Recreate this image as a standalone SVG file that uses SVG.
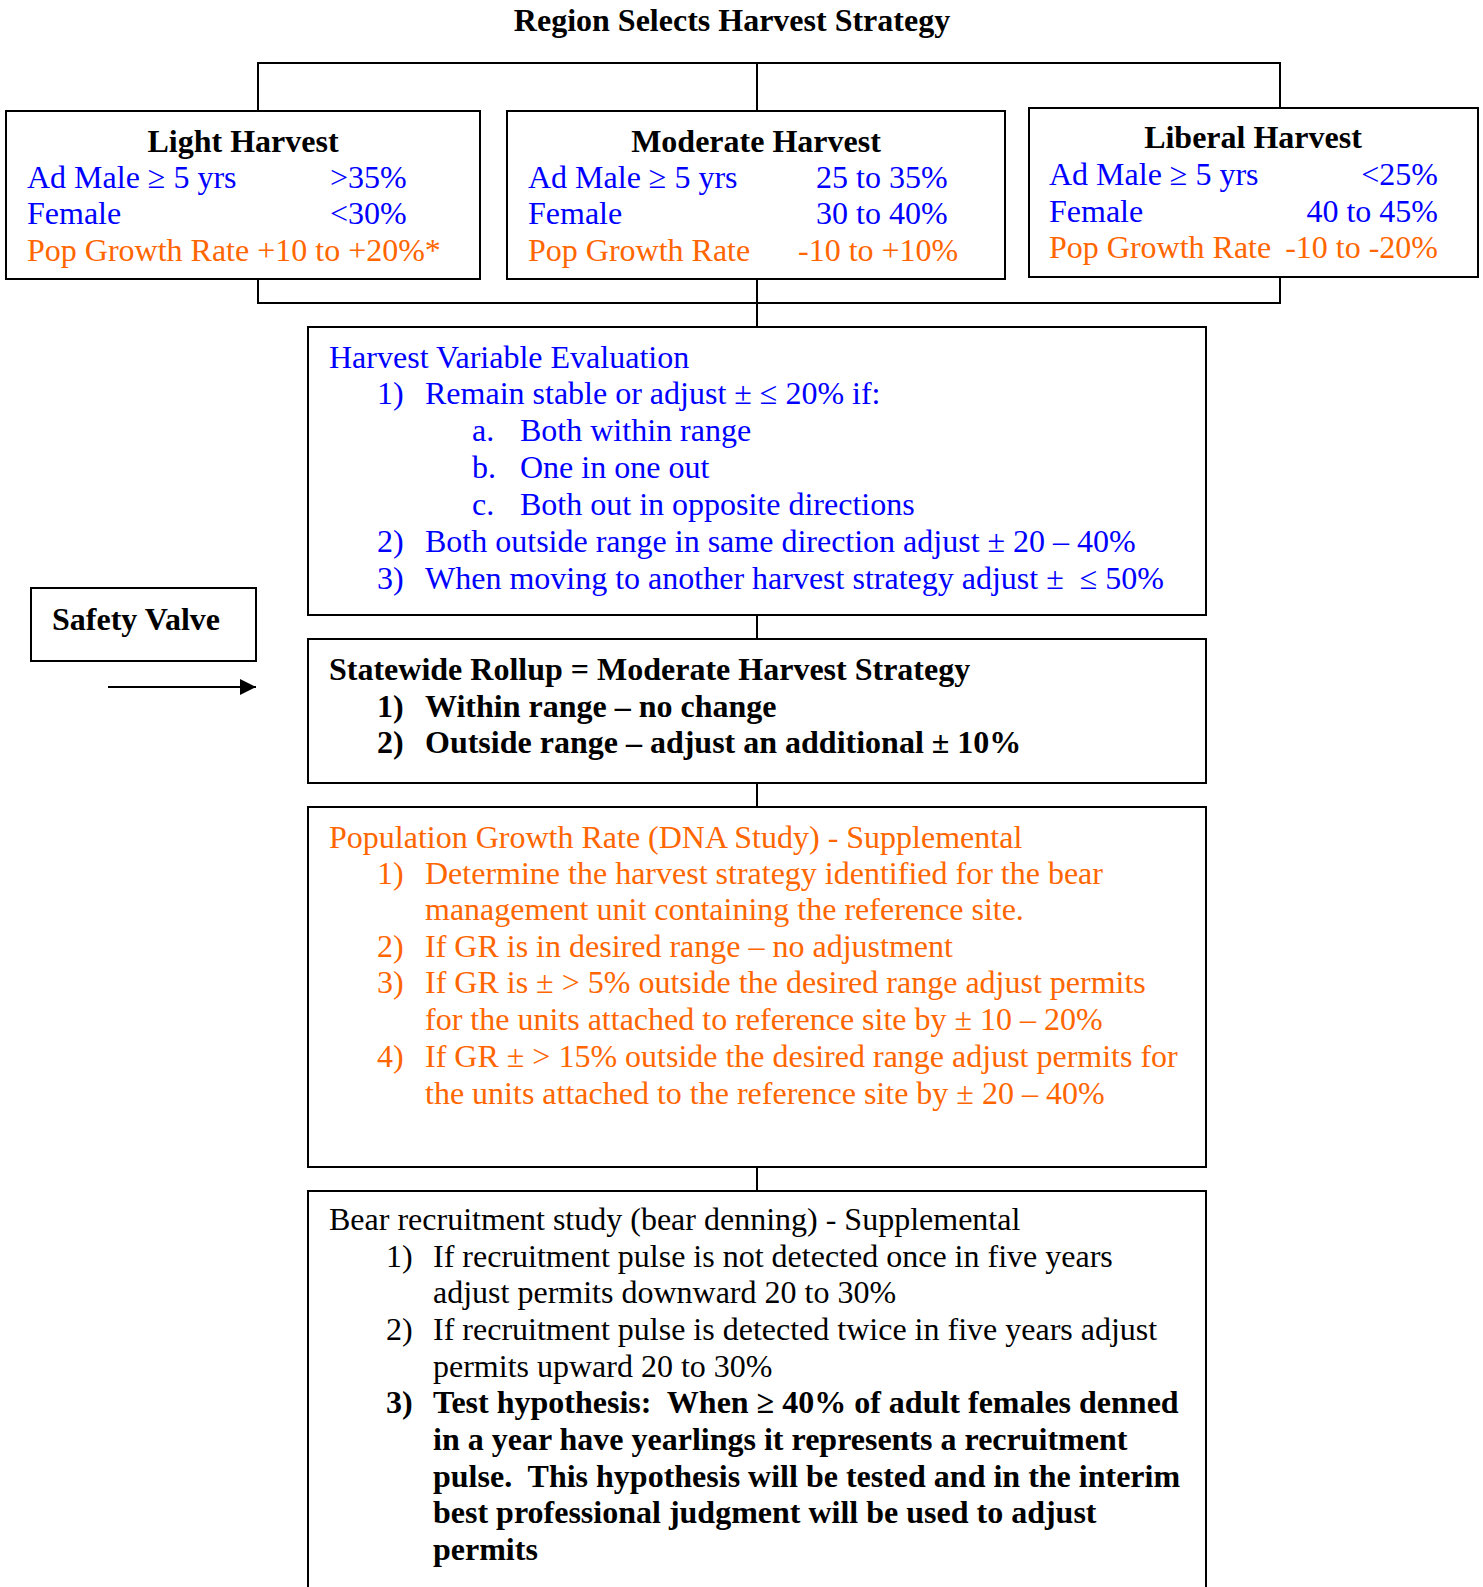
<svg xmlns="http://www.w3.org/2000/svg" width="1483" height="1587" viewBox="0 0 1483 1587">
<style>
text{font-family:"Liberation Serif","Times New Roman",serif;font-size:32px;white-space:pre}
.b{font-weight:bold;fill:#000}
.bl{fill:#0000ff}
.or{fill:#ff6600}
.k{fill:#000}
.box{fill:#fff;stroke:#000;stroke-width:2}
.c{stroke:#000;stroke-width:2;fill:none}
.m{text-anchor:middle}
.e{text-anchor:end}
</style>
<defs>
<marker id="ah" markerWidth="16" markerHeight="16" refX="16" refY="8" orient="auto" markerUnits="userSpaceOnUse">
<path d="M0,0 L16,8 L0,16 Z" fill="#000"/>
</marker>
</defs>
<rect width="1483" height="1587" fill="#fff"/>
<text id="title" class="b m" x="732" y="31">Region Selects Harvest Strategy</text>
<g id="connectors">
<path class="c" d="M258,111 V63 H1280 V108 M757,63 V111"/>
<path class="c" d="M258,279 V303 H1280 V277 M757,279 V327"/>
<path class="c" d="M757,615 V639 M757,783 V807 M757,1167 V1191"/>
<path class="c" d="M108,687 H256" marker-end="url(#ah)"/>
</g>
<g id="light">
<rect class="box" x="6" y="111" width="474" height="168"/>
<text class="b m" x="243" y="152">Light Harvest</text>
<text class="bl" x="27" y="188">Ad Male ≥ 5 yrs</text>
<text class="bl" x="330" y="188">&gt;35%</text>
<text class="bl" x="27" y="224">Female</text>
<text class="bl" x="330" y="224">&lt;30%</text>
<text class="or" x="27" y="261">Pop Growth Rate +10 to +20%*</text>
</g>
<g id="moderate">
<rect class="box" x="507" y="111" width="498" height="168"/>
<text class="b m" x="756" y="152">Moderate Harvest</text>
<text class="bl" x="528" y="188">Ad Male ≥ 5 yrs</text>
<text class="bl" x="816" y="188">25 to 35%</text>
<text class="bl" x="528" y="224">Female</text>
<text class="bl" x="816" y="224">30 to 40%</text>
<text class="or" x="528" y="261">Pop Growth Rate</text>
<text class="or" x="798" y="261">-10 to +10%</text>
</g>
<g id="liberal">
<rect class="box" x="1029" y="108" width="449" height="169"/>
<text class="b m" x="1253" y="148">Liberal Harvest</text>
<text class="bl" x="1049" y="185">Ad Male ≥ 5 yrs</text>
<text class="bl e" x="1438" y="185">&lt;25%</text>
<text class="bl" x="1049" y="222">Female</text>
<text class="bl e" x="1438" y="222">40 to 45%</text>
<text class="or" x="1049" y="258">Pop Growth Rate</text>
<text class="or e" x="1438" y="258">-10 to -20%</text>
</g>
<g id="evaluation">
<rect class="box" x="308" y="327" width="898" height="288"/>
<text class="bl" x="329" y="368">Harvest Variable Evaluation</text>
<text class="bl" x="377" y="404">1)</text>
<text class="bl" x="425" y="404">Remain stable or adjust ± ≤ 20% if:</text>
<text class="bl" x="472" y="441">a.</text>
<text class="bl" x="520" y="441">Both within range</text>
<text class="bl" x="472" y="478">b.</text>
<text class="bl" x="520" y="478">One in one out</text>
<text class="bl" x="472" y="515">c.</text>
<text class="bl" x="520" y="515">Both out in opposite directions</text>
<text class="bl" x="377" y="552">2)</text>
<text class="bl" x="425" y="552">Both outside range in same direction adjust ± 20 – 40%</text>
<text class="bl" x="377" y="589">3)</text>
<text class="bl" x="425" y="589">When moving to another harvest strategy adjust ±  ≤ 50%</text>
</g>
<g id="safety-valve">
<rect class="box" x="31" y="588" width="225" height="73"/>
<text class="b" x="52" y="630">Safety Valve</text>
</g>
<g id="statewide">
<rect class="box" x="308" y="639" width="898" height="144"/>
<text class="b" x="329" y="680">Statewide Rollup = Moderate Harvest Strategy</text>
<text class="b" x="377" y="717">1)</text>
<text class="b" x="425" y="717">Within range – no change</text>
<text class="b" x="377" y="753">2)</text>
<text class="b" x="425" y="753">Outside range – adjust an additional ± 10%</text>
</g>
<g id="population">
<rect class="box" x="308" y="807" width="898" height="360"/>
<text class="or" x="329" y="848">Population Growth Rate (DNA Study) - Supplemental</text>
<text class="or" x="377" y="884">1)</text>
<text class="or" x="425" y="884">Determine the harvest strategy identified for the bear</text>
<text class="or" x="425" y="920">management unit containing the reference site.</text>
<text class="or" x="377" y="957">2)</text>
<text class="or" x="425" y="957">If GR is in desired range – no adjustment</text>
<text class="or" x="377" y="993">3)</text>
<text class="or" x="425" y="993">If GR is ± &gt; 5% outside the desired range adjust permits</text>
<text class="or" x="425" y="1030">for the units attached to reference site by ± 10 – 20%</text>
<text class="or" x="377" y="1067">4)</text>
<text class="or" x="425" y="1067">If GR ± &gt; 15% outside the desired range adjust permits for</text>
<text class="or" x="425" y="1104">the units attached to the reference site by ± 20 – 40%</text>
</g>
<g id="recruitment">
<rect class="box" x="308" y="1191" width="898" height="410"/>
<text class="k" x="329" y="1230">Bear recruitment study (bear denning) - Supplemental</text>
<text class="k" x="386" y="1267">1)</text>
<text class="k" x="433" y="1267">If recruitment pulse is not detected once in five years</text>
<text class="k" x="433" y="1303">adjust permits downward 20 to 30%</text>
<text class="k" x="386" y="1340">2)</text>
<text class="k" x="433" y="1340">If recruitment pulse is detected twice in five years adjust</text>
<text class="k" x="433" y="1377">permits upward 20 to 30%</text>
<text class="b" x="386" y="1413">3)</text>
<text class="b" x="433" y="1413">Test hypothesis:  When ≥ 40% of adult females denned</text>
<text class="b" x="433" y="1450">in a year have yearlings it represents a recruitment</text>
<text class="b" x="433" y="1487">pulse.  This hypothesis will be tested and in the interim</text>
<text class="b" x="433" y="1523">best professional judgment will be used to adjust</text>
<text class="b" x="433" y="1560">permits</text>
</g>
</svg>
